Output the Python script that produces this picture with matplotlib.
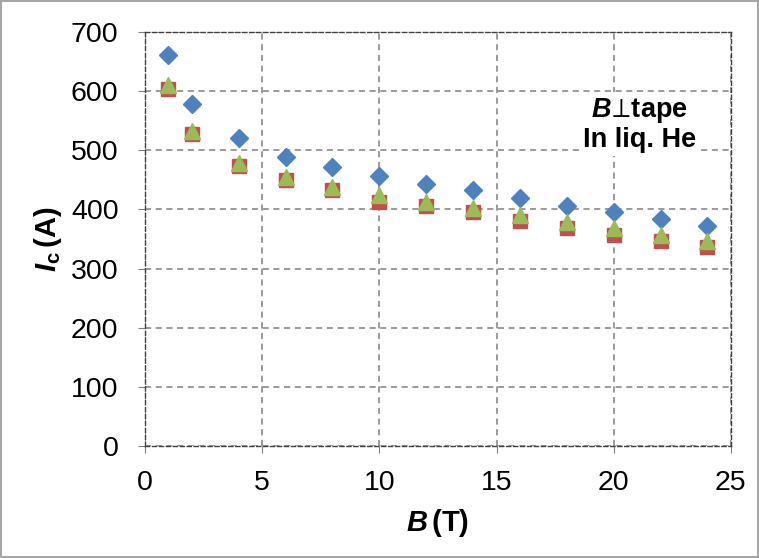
import matplotlib.pyplot as plt

plt.rcParams['font.family'] = ['Liberation Sans', 'DejaVu Sans']
plt.rcParams['mathtext.fontset'] = 'custom'
plt.rcParams['mathtext.rm'] = 'Liberation Sans:bold'
plt.rcParams['mathtext.it'] = 'Liberation Sans:bold:italic'
plt.rcParams['mathtext.bf'] = 'Liberation Sans:bold'

# datos
campo = [1, 2, 4, 6, 8, 10, 12, 14, 16, 18, 20, 22, 24]
ic_azul = [661, 578, 520, 489, 471, 457, 443, 432, 420, 406, 395, 384, 372]
ic_rojo = [603, 528, 473, 449, 432, 413, 405, 395, 380, 368, 357, 346, 336]
ic_verde = [611, 532, 479, 455, 438, 424, 413, 402, 390, 379, 368, 357, 347]

xticks = [0, 5, 10, 15, 20, 25]
yticks = [0, 100, 200, 300, 400, 500, 600, 700]

fig = plt.figure(figsize=(7.59, 5.58), dpi=100)
fig.patch.set_edgecolor('#a6a6a6')
fig.patch.set_linewidth(1.5)
ax = fig.add_axes([0.191, 0.2007, 0.772, 0.742])

ax.plot(campo, ic_azul, 'D', color='#4f81bd', markersize=9, linestyle='none')
ax.plot(campo, ic_rojo, 's', color='#c0504d', markersize=10.5, linestyle='none')
ax.plot(campo, ic_verde, '^', color='#9bbb59', markersize=11, linestyle='none')

ax.set_xlim(0, 25)
ax.set_ylim(0, 700)
ax.set_xticks(xticks)
ax.set_yticks(yticks)
ax.tick_params(labelsize=20.5, length=5, color='#808080', direction='out')
ax.tick_params(axis='y', pad=14)
ax.tick_params(axis='x', pad=12)
ax.grid(True, linestyle=(0, (4, 3)), color='#808080', linewidth=1.1)
ax.set_axisbelow(True)
for s in ax.spines.values():
    s.set_linestyle((0, (3, 2)))
    s.set_color('#404040')
    s.set_linewidth(1)

ax.set_xlabel(r'$B\,$(T)', fontsize=21, fontweight='bold', labelpad=8)
ax.set_ylabel(r'$I_{\mathrm{c}}\,$(A)', fontsize=21, fontweight='bold', labelpad=5)

ax.text(21.1, 543, r'$B\!\perp\!$tape' + '\n' + r'In liq. He', fontsize=19.5, fontweight='bold',
        ha='center', va='center', linespacing=1.1,
        bbox=dict(facecolor='white', edgecolor='none', pad=2))

plt.savefig('out.png', dpi=100)
